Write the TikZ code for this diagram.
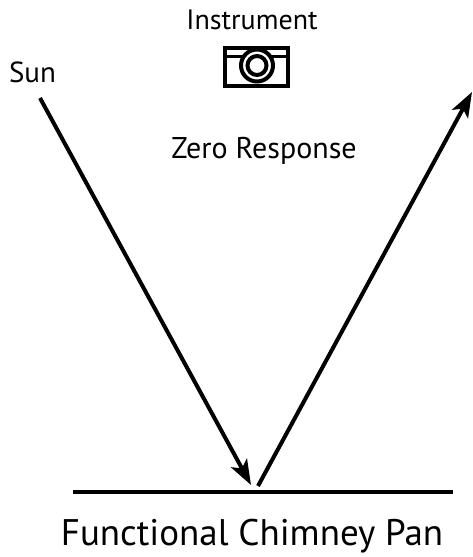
\documentclass[tikz,border=0pt]{standalone}
\usepackage{fontspec}
\setmainfont{PT Sans}
\usetikzlibrary{arrows.meta, positioning, calc}

\begin{document}
\begin{tikzpicture}[x=1pt, y=-1pt, >={Stealth[length=25pt, width=18pt, inset=6pt]}, line width=4pt]

        \useasboundingbox (0,0) rectangle (472,557);

        % Labels
        \node[font=\fontsize{28}{32}\selectfont] (instrument) at (252,20) {Instrument};
        \node[font=\fontsize{29}{34}\selectfont] (sun) at (32.5,72) {Sun};
        \node[font=\fontsize{30}{35}\selectfont] (response) at (264,151) {Zero Response};
        \node[font=\fontsize{37}{44}\selectfont] (pan) at (252,536) {Functional Chimney Pan};

        % Camera
        \node[rectangle, draw, line width=4pt, minimum width=63pt, minimum height=38pt, inner sep=0pt] (camera) at (256.5,67) {};
        \draw[line width=3pt] ($(camera.north west)+(0,10)$) -- ($(camera.north east)+(0,10)$);
        \node[circle, draw, fill=white, line width=4pt, minimum size=32pt, inner sep=0pt] (lensOuter) at (257,65.5) {};
        \node[circle, draw, line width=4pt, minimum size=19pt, inner sep=0pt] (lensInner) at (257,65.5) {};

        % Surface
        \coordinate (panLeft) at (73,492);
        \coordinate (panRight) at (453,492);
        \draw (panLeft) -- (panRight);

        % Incoming and reflected rays
        \coordinate (rayStart) at (40,98);
        \coordinate (rayHit) at (251,485);
        \coordinate (rayFoot) at (258,486);
        \coordinate (rayEnd) at (472,92);
        \draw[->] (rayStart) -- (rayHit);
        \draw[->] (rayFoot) -- (rayEnd);

    \end{tikzpicture}
\end{document}
